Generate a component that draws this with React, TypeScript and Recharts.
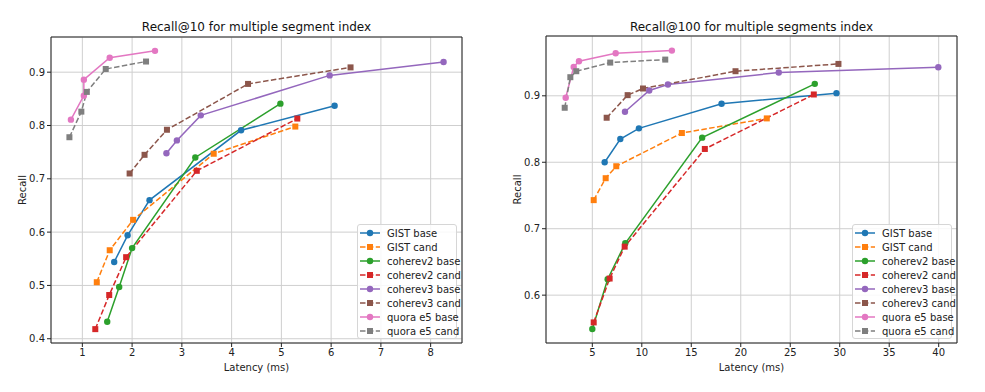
import { LineChart, Line, XAxis, YAxis, CartesianGrid, ReferenceArea, Legend, Label } from 'recharts'

type Pt = [number, number] // [latency ms, recall]

// Recall@10
const r10GistBase: Pt[] = [[1.64, 0.544], [1.91, 0.594], [2.35, 0.66], [4.19, 0.791], [6.07, 0.837]]
const r10GistCand: Pt[] = [[1.29, 0.506], [1.55, 0.566], [2.02, 0.623], [3.64, 0.747], [5.28, 0.798]]
const r10Cohere2Base: Pt[] = [[1.5, 0.432], [1.74, 0.497], [2.0, 0.57], [3.27, 0.74], [4.98, 0.841]]
const r10Cohere2Cand: Pt[] = [[1.26, 0.418], [1.54, 0.482], [1.88, 0.553], [3.3, 0.715], [5.32, 0.813]]
const r10Cohere3Base: Pt[] = [[2.69, 0.748], [2.9, 0.772], [3.38, 0.819], [5.97, 0.894], [8.26, 0.919]]
const r10Cohere3Cand: Pt[] = [[1.95, 0.71], [2.25, 0.745], [2.7, 0.792], [4.33, 0.878], [6.39, 0.909]]
const r10QuoraBase: Pt[] = [[0.77, 0.811], [1.03, 0.856], [1.03, 0.886], [1.55, 0.927], [2.46, 0.94]]
const r10QuoraCand: Pt[] = [[0.74, 0.778], [0.98, 0.826], [1.09, 0.863], [1.47, 0.906], [2.28, 0.92]]

// Recall@100
const r100GistBase: Pt[] = [[6.25, 0.8], [7.83, 0.835], [9.71, 0.851], [18.06, 0.888], [29.67, 0.904]]
const r100GistCand: Pt[] = [[5.14, 0.743], [6.35, 0.776], [7.42, 0.794], [14.05, 0.844], [22.63, 0.866]]
const r100Cohere2Base: Pt[] = [[5.0, 0.549], [6.55, 0.624], [8.33, 0.678], [16.1, 0.837], [27.48, 0.918]]
const r100Cohere2Cand: Pt[] = [[5.14, 0.559], [6.75, 0.625], [8.27, 0.673], [16.37, 0.82], [27.38, 0.902]]
const r100Cohere3Base: Pt[] = [[8.3, 0.876], [10.75, 0.908], [12.64, 0.917], [23.84, 0.935], [39.96, 0.943]]
const r100Cohere3Cand: Pt[] = [[6.45, 0.867], [8.57, 0.901], [10.12, 0.911], [19.47, 0.937], [29.87, 0.948]]
const r100QuoraBase: Pt[] = [[2.31, 0.897], [3.12, 0.9435], [3.65, 0.952], [7.36, 0.964], [13.04, 0.968]]
const r100QuoraCand: Pt[] = [[2.21, 0.882], [2.78, 0.928], [3.38, 0.937], [6.81, 0.95], [12.37, 0.9545]]

const seriesNames = [
  'GIST base', 'GIST cand', 'coherev2 base', 'coherev2 cand',
  'coherev3 base', 'coherev3 cand', 'quora e5 base', 'quora e5 cand',
]
const seriesColors = ['#1f77b4', '#ff7f0e', '#2ca02c', '#d62728', '#9467bd', '#8c564b', '#e377c2', '#7f7f7f']

const r10Series = [r10GistBase, r10GistCand, r10Cohere2Base, r10Cohere2Cand, r10Cohere3Base, r10Cohere3Cand, r10QuoraBase, r10QuoraCand]
const r100Series = [r100GistBase, r100GistCand, r100Cohere2Base, r100Cohere2Cand, r100Cohere3Base, r100Cohere3Cand, r100QuoraBase, r100QuoraCand]

const r10XTicks = [1, 2, 3, 4, 5, 6, 7, 8]
const r10YTicks = [0.4, 0.5, 0.6, 0.7, 0.8, 0.9]
const r100XTicks = [5, 10, 15, 20, 25, 30, 35, 40]
const r100YTicks = [0.6, 0.7, 0.8, 0.9]

const FONT = 'DejaVu Sans, sans-serif'
const DASH = '5.5 2.4'

const isCand = (i: number) => i % 2 === 1

function makeDot(color: string, square: boolean) {
  return (p: any) => {
    const { cx, cy, index } = p
    if (cx == null || cy == null) return <g key={`e-${index}`} />
    return square ? (
      <rect key={`d-${index}`} x={cx - 3} y={cy - 3} width={6} height={6} fill={color} />
    ) : (
      <circle key={`d-${index}`} cx={cx} cy={cy} r={3.2} fill={color} />
    )
  }
}

function LegendBox() {
  return (
    <div
      style={{
        border: '1px solid #d6d6d6',
        borderRadius: 3,
        background: 'rgba(255,255,255,0.85)',
        padding: '1px 4px 0 1px',
        fontFamily: FONT,
        fontSize: 10,
        color: '#222',
        width: 93,
      }}
    >
      {seriesNames.map((name, i) => (
        <div key={name} style={{ display: 'flex', alignItems: 'center', height: 14 }}>
          <svg width={22} height={10} style={{ flex: 'none' }}>
            <line x1={1} x2={21} y1={5} y2={5} stroke={seriesColors[i]} strokeWidth={1.5}
              strokeDasharray={isCand(i) ? DASH : undefined} />
            {isCand(i)
              ? <rect x={8} y={2} width={6} height={6} fill={seriesColors[i]} />
              : <circle cx={11} cy={5} r={3.2} fill={seriesColors[i]} />}
          </svg>
          <span style={{ marginLeft: 6, whiteSpace: 'nowrap' }}>{name}</span>
        </div>
      ))}
    </div>
  )
}

interface PanelProps {
  title: string
  series: Pt[][]
  xDomain: [number, number]
  yDomain: [number, number]
  xTicks: number[]
  yTicks: number[]
  width: number
  margin: { top: number; right: number; bottom: number; left: number }
  legendPos: { left: number; top: number }
}

function Panel({ title, series, xDomain, yDomain, xTicks, yTicks, width, margin, legendPos }: PanelProps) {
  const plotLeft = margin.left + 40
  const plotRight = width - margin.right
  const tick = { fontSize: 10, fill: '#222', fontFamily: FONT }
  return (
    <div style={{ position: 'relative', width, height: 392 }}>
      <div
        style={{
          position: 'absolute',
          top: 19,
          left: plotLeft,
          width: plotRight - plotLeft,
          textAlign: 'center',
          fontFamily: FONT,
          fontSize: 12,
          lineHeight: '16px',
          color: '#111',
        }}
      >
        {title}
      </div>
      <LineChart width={width} height={392} margin={margin}>
        <CartesianGrid stroke="#cfcfcf" strokeWidth={1} />
        <XAxis
          type="number"
          dataKey="x"
          domain={xDomain}
          ticks={xTicks}
          allowDataOverflow
          height={40}
          axisLine={false}
          tickLine={{ stroke: '#222' }}
          tickSize={4}
          tickMargin={2}
          tick={tick}
        >
          <Label
            content={({ viewBox }: any) => (
              <text x={viewBox.x + viewBox.width / 2} y={viewBox.y + 24} textAnchor="middle"
                dominantBaseline="central" fontSize={10} fontFamily={FONT} fill="#222">
                Latency (ms)
              </text>
            )}
          />
        </XAxis>
        <YAxis
          type="number"
          domain={yDomain}
          ticks={yTicks}
          allowDataOverflow
          width={40}
          axisLine={false}
          tickLine={{ stroke: '#222' }}
          tickSize={4}
          tickMargin={2}
          tick={tick}
          tickFormatter={(v: number) => v.toFixed(1)}
        >
          <Label
            content={({ viewBox }: any) => {
              const x = viewBox.x + 11
              const y = viewBox.y + viewBox.height / 2
              return (
                <text x={x} y={y} transform={`rotate(-90 ${x} ${y})`} textAnchor="middle"
                  dominantBaseline="central" fontSize={10} fontFamily={FONT} fill="#222">
                  Recall
                </text>
              )
            }}
          />
        </YAxis>
        {series.map((pts, i) => (
          <Line
            key={seriesNames[i]}
            name={seriesNames[i]}
            data={pts.map(([x, y]) => ({ x, y }))}
            dataKey="y"
            type="linear"
            stroke={seriesColors[i]}
            strokeWidth={1.5}
            strokeDasharray={isCand(i) ? DASH : undefined}
            dot={makeDot(seriesColors[i], isCand(i))}
            activeDot={false}
            isAnimationActive={false}
          />
        ))}
        <ReferenceArea
          x1={xDomain[0]}
          x2={xDomain[1]}
          y1={yDomain[0]}
          y2={yDomain[1]}
          fill="none"
          stroke="#222"
          strokeWidth={1}
          fillOpacity={0}
        />
        <Legend
          layout="horizontal"
          verticalAlign="middle"
          align="center"
          wrapperStyle={{ left: legendPos.left, top: legendPos.top, width: 'auto', height: 'auto' }}
          content={() => <LegendBox />}
        />
      </LineChart>
    </div>
  )
}

export default function App() {
  return (
    <div
      style={{
        position: 'absolute',
        left: 0,
        top: 0,
        width: 985,
        height: 392,
        background: '#fff',
        display: 'flex',
      }}
    >
      <Panel
        title="Recall@10 for multiple segment index"
        series={r10Series}
        xDomain={[0.37, 8.63]}
        yDomain={[0.392, 0.966]}
        xTicks={r10XTicks}
        yTicks={r10YTicks}
        width={492}
        margin={{ top: 37, right: 30, bottom: 9, left: 11 }}
        legendPos={{ left: 357, top: 224 }}
      />
      <Panel
        title="Recall@100 for multiple segments index"
        series={r100Series}
        xDomain={[0.32, 41.85]}
        yDomain={[0.528, 0.99]}
        xTicks={r100XTicks}
        yTicks={r100YTicks}
        width={493}
        margin={{ top: 36, right: 28, bottom: 9, left: 14 }}
        legendPos={{ left: 360, top: 224 }}
      />
    </div>
  )
}
